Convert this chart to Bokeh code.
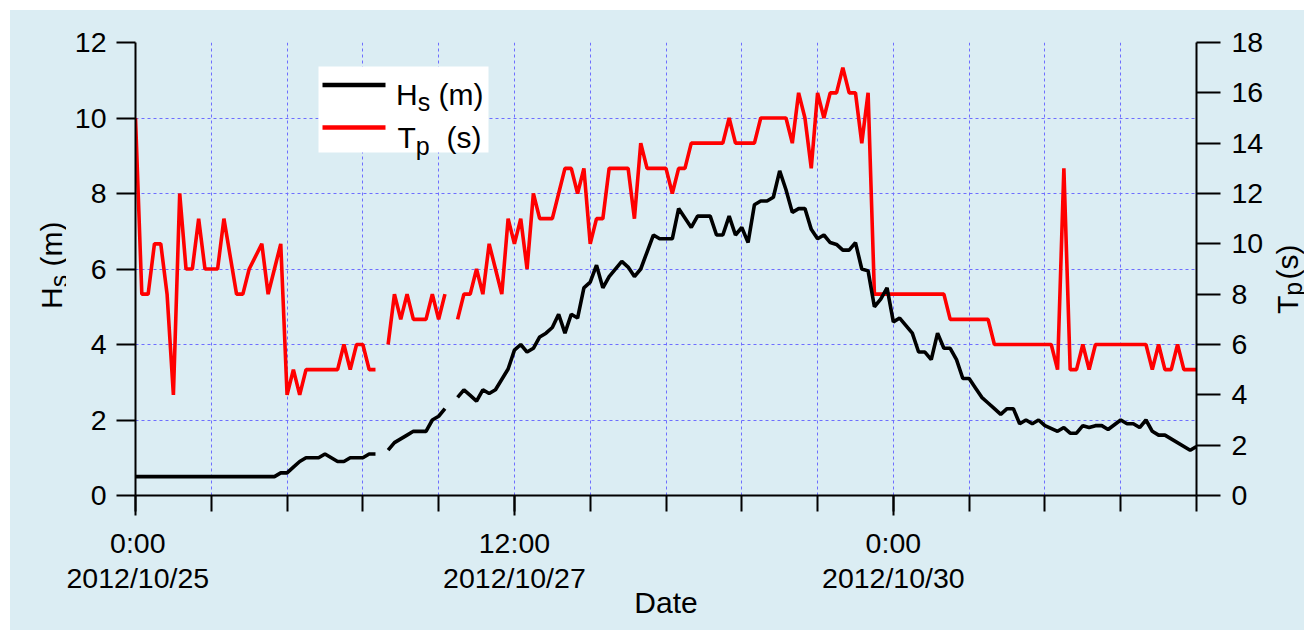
import math
from bokeh.plotting import figure
from bokeh.layouts import row
from bokeh.models import (Range1d, LinearAxis, FixedTicker, Label, BoxAnnotation, Arrow)
from bokeh.embed import file_html
from bokeh.resources import INLINE

# ---------------- data (hours since 2012/10/25 0:00) ----------------
hs_hours = [0, 22, 23, 24, 25, 26, 27, 29, 30, 31, 32, 33, 34, 36, 37, 38, 39,
            40, 41, 42, 43, 44, 46, 47, 48, 49, 50,
            51, 52, 53, 54, 55, 56, 57, 59, 60, 61, 62, 63, 64, 65, 66, 67, 68, 69, 70,
            71, 72, 73, 74, 75, 77, 78, 79, 80, 81, 82, 83, 85, 86, 88, 89, 91, 92, 93,
            94, 95, 96, 97, 98, 99, 100, 101, 102, 103, 104, 105, 106, 107, 108, 109,
            110, 111, 112, 113, 114, 115, 116, 117, 118, 119, 120, 121, 122, 123, 124,
            125, 126, 127, 128, 129, 130, 131, 132, 133, 134, 135, 136, 137, 138, 139,
            140, 141, 142, 143, 144, 146, 147, 148, 149, 150, 151, 152, 153, 154, 156,
            157, 158, 159, 160, 161, 162, 163, 167, 168]
hs_values = [0.5, 0.5, 0.6, 0.6, 0.75, 0.9, 1.0, 1.0, 1.1, 1.0, 0.9, 0.9, 1.0, 1.0, 1.1, 1.1, float("nan"),
             1.2, 1.4, 1.5, 1.6, 1.7, 1.7, 2.0, 2.1, 2.3, float("nan"),
             2.6, 2.8, 2.65, 2.5, 2.8, 2.7, 2.8, 3.35, 3.85, 4.0, 3.8, 3.9, 4.2, 4.3, 4.45, 4.8, 4.3, 4.8, 4.7,
             5.5, 5.65, 6.1, 5.5, 5.8, 6.2, 6.05, 5.8, 6.0, 6.45, 6.9, 6.8, 6.8, 7.6, 7.1, 7.4, 7.4, 6.9, 6.9,
             7.4, 6.9, 7.1, 6.7, 7.7, 7.8, 7.8, 7.9, 8.6, 8.1, 7.5, 7.6, 7.6, 7.05, 6.8, 6.9,
             6.7, 6.65, 6.5, 6.5, 6.7, 6.0, 5.95, 5.0, 5.2, 5.5, 4.6, 4.7, 4.5, 4.3, 3.8,
             3.8, 3.6, 4.3, 3.9, 3.9, 3.6, 3.1, 3.1, 2.85, 2.6, 2.45, 2.3, 2.15, 2.3, 2.3,
             1.9, 2.0, 1.9, 2.0, 1.85, 1.7, 1.8, 1.65, 1.65, 1.85, 1.8, 1.85, 1.85, 1.75, 2.0,
             1.9, 1.9, 1.8, 2.0, 1.7, 1.6, 1.6, 1.2, 1.3]

tp_hours = [0, 1, 2, 3, 4, 5, 6, 7, 8, 9, 10, 11, 13, 14, 16, 17, 18, 20, 21, 22, 23,
            24, 25, 26, 27, 32, 33, 34, 35, 36, 37, 38, 39,
            40, 41, 42, 43, 44, 46, 47, 48, 49, 50,
            51, 52, 53, 54, 55, 56, 57, 58, 59, 60, 61, 62, 63, 64, 66, 67, 68, 69, 70,
            71, 72, 73, 74, 75, 78, 79, 80, 81, 84, 85, 86, 87, 88, 93, 94, 95, 98, 99,
            103, 104, 105, 106, 107, 108, 109, 110, 111, 112, 113, 114, 115, 116, 117,
            128, 129, 135, 136, 145, 146, 147, 148, 149, 150, 151, 152, 160, 161, 162,
            163, 164, 165, 166, 168]
tp_values = [15, 8, 8, 10, 10, 8, 4, 12, 9, 9, 11, 9, 9, 11, 8, 8, 9, 10, 8, 9, 10,
             4, 5, 4, 5, 5, 6, 5, 6, 6, 5, 5, float("nan"),
             6, 8, 7, 8, 7, 7, 8, 7, 8, float("nan"),
             7, 8, 8, 9, 8, 10, 9, 8, 11, 10, 11, 9, 12, 11, 11, 12, 13, 13, 12,
             13, 10, 11, 11, 13, 13, 11, 14, 13, 13, 12, 13, 13, 14, 14, 15, 14, 14, 15,
             15, 14, 16, 15, 13, 16, 15, 16, 16, 17, 16, 16, 14, 16, 8,
             8, 7, 7, 6, 6, 5, 13, 5, 5, 6, 5, 6, 6, 5, 6,
             5, 5, 6, 5, 5]

x_tick_hours = [0, 60, 120]
x_tick_labels = ["0:00\n2012/10/25", "12:00\n2012/10/27", "0:00\n2012/10/30"]
x_minor_hours = list(range(0, 169, 12))
hs_ticks = list(range(0, 13, 2))
tp_ticks = list(range(0, 19, 2))

# ---------------- style / layout ----------------
BG = "#dbedf3"
GRID = "#6e6eff"
FONT = "Liberation Sans"
TICK_FS = "28.5px"
LAB_FS = "30px"
SUB_FS = "25px"

OFF = 10                      # white page margin left/top
H = 620
LW, MW, RW = 56, 1200, 38     # widths: left title strip, main plot, right title strip
MX = OFF + LW                 # page x of the main plot's left edge (66)
RX = MX + MW                  # page x of the right strip (1266)
FL, FR, FT, FB = 135, 1196, 42, 495   # frame edges in page pixels

p = figure(width=MW, height=H, x_range=Range1d(0, 168), y_range=Range1d(0, 12),
           output_backend="svg", toolbar_location=None,
           min_border_left=FL - MX, min_border_right=RX - FR,
           min_border_top=FT - OFF, min_border_bottom=OFF + H - FB,
           background_fill_color=BG, border_fill_color=BG, outline_line_color=None)

# grids
p.xgrid.ticker = FixedTicker(ticks=x_minor_hours)
p.ygrid.ticker = FixedTicker(ticks=hs_ticks)
for g in (p.xgrid[0], p.ygrid[0]):
    g.grid_line_color = GRID
    g.grid_line_dash = "3 3"
    g.grid_line_width = 1

# bottom axis
xa = p.xaxis[0]
xa.ticker = FixedTicker(ticks=x_tick_hours, minor_ticks=x_minor_hours)
xa.major_label_overrides = {h: t for h, t in zip(x_tick_hours, x_tick_labels)}
xa.major_tick_out = 20
xa.major_tick_in = 0
xa.minor_tick_out = 16
xa.minor_tick_in = 0
xa.major_label_standoff = 11
xa.major_label_text_line_height = 1.12
xa.axis_label = "Date"
xa.axis_label_standoff = -11

# left axis
ya = p.yaxis[0]
ya.ticker = FixedTicker(ticks=hs_ticks)
ya.major_tick_out = 19
ya.major_tick_in = 0
ya.minor_tick_out = 0
ya.minor_tick_in = 0
ya.major_label_standoff = 10

# right axis
p.extra_y_ranges = {"tp": Range1d(0, 18)}
ra = LinearAxis(y_range_name="tp", ticker=FixedTicker(ticks=tp_ticks))
ra.major_tick_out = 24
ra.major_tick_in = 0
ra.minor_tick_out = 0
ra.minor_tick_in = 0
ra.major_label_standoff = 11
p.add_layout(ra, "right")

for ax in (xa, ya, ra):
    ax.axis_line_width = 2
    ax.axis_line_color = "black"
    ax.major_tick_line_width = 2
    ax.major_tick_line_color = "black"
    ax.minor_tick_line_width = 2
    ax.minor_tick_line_color = "black"
    ax.major_label_text_font = FONT
    ax.major_label_text_font_size = TICK_FS
    ax.major_label_text_color = "black"
    ax.axis_label_text_font = FONT
    ax.axis_label_text_font_size = LAB_FS
    ax.axis_label_text_font_style = "normal"
    ax.axis_label_text_color = "black"

# data lines
p.line(tp_hours, tp_values, y_range_name="tp", line_color="#ff0000", line_width=3.6)
p.line(hs_hours, hs_values, line_color="black", line_width=3.6)

# ---------------- legend (decoration, page px -> data) ----------------
def dx(px):
    return (px - FL) / (FR - FL) * 168.0

def dy(py):
    return (FB - py) / (FB - FT) * 12.0

def txt(fig, text, x, y, size=LAB_FS, angle=0.0):
    fig.add_layout(Label(x=x, y=y, text=text, angle=angle,
                         text_font=FONT, text_font_size=size, text_color="black",
                         text_align="left", text_baseline="alphabetic"))

p.add_layout(BoxAnnotation(left=dx(318), right=dx(488), top=dy(66), bottom=dy(152),
                           fill_color="white", fill_alpha=1.0, line_color=None))
p.add_layout(Arrow(end=None, x_start=dx(322), x_end=dx(385), y_start=dy(84.5), y_end=dy(84.5),
                   line_color="black", line_width=4.5))
p.add_layout(Arrow(end=None, x_start=dx(322), x_end=dx(385), y_start=dy(127), y_end=dy(127),
                   line_color="#ff0000", line_width=4.5))
txt(p, "H", dx(395.5), dy(94.3))
txt(p, "s", dx(417.2), dy(101.7), SUB_FS)
txt(p, "(m)", dx(438.0), dy(94.3))
txt(p, "T", dx(397.0), dy(136.7))
txt(p, "p", dx(415.3), dy(145.5), SUB_FS)
txt(p, "(s)", dx(446.0), dy(136.7))

# ---------------- side strips carrying the rotated axis titles ----------------
# (their frames line up with the main frame: page y 42..495; ranges are page pixels)
def strip(width, page_x0):
    f = figure(width=width, height=H,
               x_range=Range1d(page_x0, page_x0 + width), y_range=Range1d(FB, FT),
               x_axis_type=None, y_axis_type=None, output_backend="svg",
               toolbar_location=None, min_border=0, outline_line_color=None,
               background_fill_color=BG, border_fill_color=BG)
    f.xgrid.visible = False
    f.ygrid.visible = False
    return f

R = math.pi / 2
pl = strip(LW, OFF)
txt(pl, "H", 50.5, 308.4, angle=R)
txt(pl, "s", 58.0, 286.7, SUB_FS, angle=R)
txt(pl, "(m)", 50.5, 265.9, angle=R)

pr = strip(RW, RX)
txt(pr, "T", 1286.5, 313.5, angle=R)
txt(pr, "p", 1292.0, 295.2, SUB_FS, angle=R)
txt(pr, "(s)", 1286.5, 279.0, angle=R)

layout = row(pl, p, pr, spacing=0, styles={"background-color": BG})
layout.margin = (OFF, 0, 0, OFF)

open("out.html", "w").write(file_html(layout, INLINE))
